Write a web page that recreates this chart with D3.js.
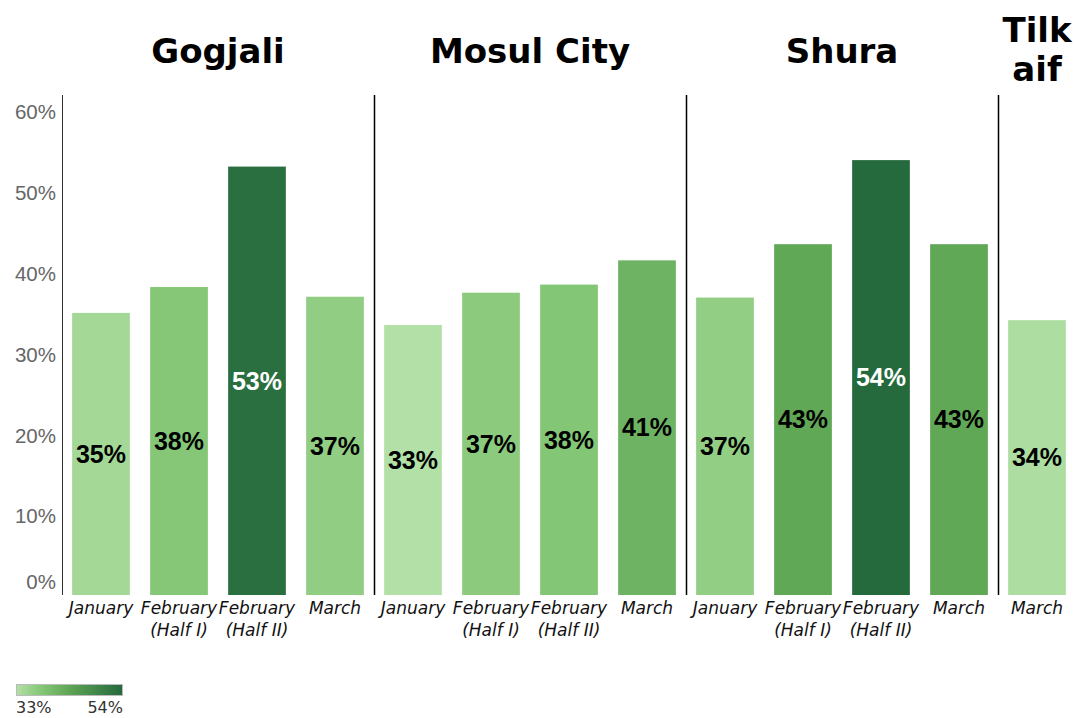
<!DOCTYPE html>
<meta charset="utf-8">
<style>
body { margin: 0; background: #fff; }
svg { display: block; }
</style>
<svg width="1077" height="718"></svg>
<script src="https://cdn.jsdelivr.net/npm/d3@7/dist/d3.min.js"></script>
<script>

// data
var sites = ["Gogjali", "Mosul City", "Shura", "Tilkaif"];
var gogjaliPeriods = ["January", "February (Half I)", "February (Half II)", "March"];
var gogjaliValues = [34.9, 38.1, 53.0, 36.9];
var mosulPeriods = ["January", "February (Half I)", "February (Half II)", "March"];
var mosulValues = [33.4, 37.4, 38.4, 41.4];
var shuraPeriods = ["January", "February (Half I)", "February (Half II)", "March"];
var shuraValues = [36.8, 43.4, 53.8, 43.4];
var tilkaifPeriods = ["March"];
var tilkaifValues = [34.0];
var yTicks = [0, 10, 20, 30, 40, 50, 60];

var periodsBySite = [gogjaliPeriods, mosulPeriods, shuraPeriods, tilkaifPeriods];
var valuesBySite = [gogjaliValues, mosulValues, shuraValues, tilkaifValues];

var rows = [];
sites.forEach(function (s, i) {
  periodsBySite[i].forEach(function (p, j) {
    rows.push({ site: s, period: p, value: valuesBySite[i][j], key: s + "|" + p });
  });
});

var sansFont = "'Liberation Sans', Arial, sans-serif";
var verdanaFont = "'DejaVu Sans', Verdana, sans-serif";

var svg = d3.select("svg");

var x = d3.scaleBand()
    .domain(rows.map(function (d) { return d.key; }))
    .range([62, 1076])
    .paddingInner(0.26)
    .paddingOuter(0.13);

var y = d3.scaleLinear().domain([0, 60]).range([595, 110]);

var color = d3.scaleLinear()
    .domain([33.4, 38, 43.4, 54])
    .range(["#b3e0a6", "#86c878", "#60a756", "#24693d"]);

var gap = (x.step() - x.bandwidth()) / 2;

// y axis labels
svg.append("g").selectAll("text")
    .data(yTicks)
    .enter().append("text")
    .attr("x", 56)
    .attr("y", function (d) { return d === 0 ? y(d) - 13 : y(d) + 2; })
    .attr("dy", "0.35em")
    .attr("text-anchor", "end")
    .style("font-family", sansFont)
    .style("font-size", "20.5px")
    .style("fill", "#666")
    .text(function (d) { return d + "%"; });

// axis line
svg.append("line")
    .attr("x1", 62.5).attr("x2", 62.5)
    .attr("y1", 95).attr("y2", 595)
    .style("stroke", "#333").style("stroke-width", 1);

// bars
svg.append("g").selectAll("rect")
    .data(rows)
    .enter().append("rect")
    .attr("x", function (d) { return x(d.key); })
    .attr("width", x.bandwidth())
    .attr("y", function (d) { return y(d.value); })
    .attr("height", function (d) { return y(0) - y(d.value); })
    .style("fill", function (d) { return color(d.value); });

// bar labels
svg.append("g").selectAll("text")
    .data(rows)
    .enter().append("text")
    .attr("x", function (d) { return x(d.key) + x.bandwidth() / 2; })
    .attr("y", function (d) { return (y(d.value) + y(0)) / 2; })
    .attr("dy", "0.35em")
    .attr("text-anchor", "middle")
    .style("font-family", sansFont)
    .style("font-weight", "bold")
    .style("font-size", "25px")
    .style("fill", function (d) { return d.value > 50 ? "#fff" : "#000"; })
    .text(function (d) { return Math.round(d.value) + "%"; });

// month labels
var months = svg.append("g").selectAll("text")
    .data(rows)
    .enter().append("text")
    .attr("x", function (d) { return x(d.key) + x.bandwidth() / 2; })
    .attr("y", 614)
    .attr("text-anchor", "middle")
    .style("font-family", verdanaFont)
    .style("font-style", "italic")
    .style("font-size", "17px")
    .style("fill", "#111");

months.each(function (d) {
  var m = d.period.match(/^(\S+)\s*(\(.*\))?$/);
  var t = d3.select(this);
  t.append("tspan").attr("x", t.attr("x")).text(m[1]);
  if (m[2]) t.append("tspan").attr("x", t.attr("x")).attr("dy", 22).text(m[2]);
});

// panel dividers and headers
sites.forEach(function (s, i) {
  var keys = rows.filter(function (d) { return d.site === s; }).map(function (d) { return d.key; });
  var left = x(keys[0]) - gap;
  var right = x(keys[keys.length - 1]) + x.bandwidth() + gap;
  if (i > 0) {
    svg.append("line")
        .attr("x1", Math.round(left) + 0.5).attr("x2", Math.round(left) + 0.5)
        .attr("y1", 95).attr("y2", 595)
        .style("stroke", "#000").style("stroke-width", 1.5);
  }
  var header = svg.append("text")
      .attr("x", (left + right) / 2)
      .attr("text-anchor", "middle")
      .style("font-family", verdanaFont)
      .style("font-weight", "bold")
      .style("font-size", "34px")
      .style("fill", "#000");
  if (s === "Tilkaif") {
    header.attr("y", 42);
    header.append("tspan").attr("x", (left + right) / 2).text("Tilk");
    header.append("tspan").attr("x", (left + right) / 2).attr("dy", 39).text("aif");
  } else {
    header.attr("y", 63).text(s);
  }
});

// colour legend
var defs = svg.append("defs");
var grad = defs.append("linearGradient").attr("id", "legendGrad");
color.domain().forEach(function (v) {
  grad.append("stop")
      .attr("offset", ((v - 33.4) / (54 - 33.4) * 100) + "%")
      .attr("stop-color", color(v));
});
svg.append("rect")
    .attr("x", 16.5).attr("y", 684.5)
    .attr("width", 106).attr("height", 11)
    .style("fill", "url(#legendGrad)")
    .style("stroke", "#bbb").style("stroke-width", 1);
svg.append("text")
    .attr("x", 16).attr("y", 713)
    .style("font-family", verdanaFont)
    .style("font-size", "16px").style("fill", "#333")
    .text("33%");
svg.append("text")
    .attr("x", 123).attr("y", 713)
    .attr("text-anchor", "end")
    .style("font-family", verdanaFont)
    .style("font-size", "16px").style("fill", "#333")
    .text("54%");

</script>
